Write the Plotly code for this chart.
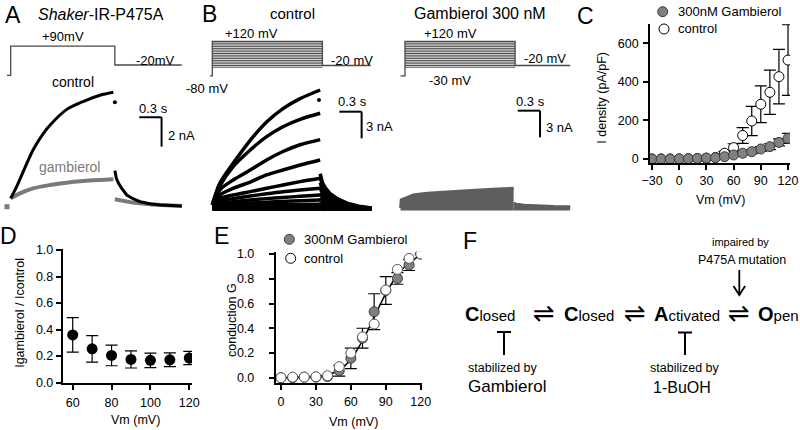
import plotly.graph_objects as go

W, H = 800, 430
FONT = "Liberation Sans, Arial, Helvetica, sans-serif"

# ---------------- Panel A : Shaker-IR-P475A, +90 mV (time s, current nA) ----------------
a_ctrl_t = [0.0, 0.08, 0.30, 0.44, 0.53, 0.75, 0.98, 1.20, 1.38]
a_ctrl_i = [0.52, 1.32, 3.82, 4.95, 5.52, 6.57, 7.14, 7.55, 7.75]
a_ctrl_end_t = [1.40]
a_ctrl_end_i = [7.07]
a_ctrl_tail_t = [1.40, 1.42, 1.45, 1.49, 1.56, 1.65, 1.74, 1.87, 2.01, 2.15, 2.30]
a_ctrl_tail_i = [2.41, 1.89, 1.55, 1.22, 0.75, 0.48, 0.29, 0.15, 0.07, 0.03, 0.0]
a_gamb_t = [0.0, 0.125, 0.30, 0.53, 0.75, 0.98, 1.20, 1.38]
a_gamb_i = [0.52, 0.86, 1.20, 1.43, 1.59, 1.70, 1.77, 1.82]
a_gamb_tail_t = [1.40, 1.52, 1.64, 1.90, 2.30]
a_gamb_tail_i = [0.46, 0.33, 0.23, 0.10, 0.0]
a_gamb_start_t = [-0.05]
a_gamb_start_i = [-0.05]
a_prot_t = [-0.05, 0.0, 0.0, 1.40, 1.40, 2.30]
a_prot_mv = [-80, -80, 90, 90, -20, -20]

# ---------------- Panel B : control family ----------------
b_t = [0.0, 0.10, 0.28, 0.51, 0.73, 0.95, 1.18, 1.45]
b_ctrl_traces = [
    [0.5, 2.92, 5.17, 7.76, 9.82, 11.33, 12.45, 13.42],
    [0.5, 2.60, 4.79, 6.67, 8.17, 9.29, 10.12, 10.80],
    [0.5, 2.17, 3.30, 4.42, 5.55, 6.50, 7.26, 7.84],
    [0.5, 1.61, 2.36, 3.07, 3.86, 4.42, 4.98, 5.55],
    [0.5, 1.24, 1.61, 1.99, 2.36, 2.74, 3.11, 3.49],
    [0.5, 0.97, 1.20, 1.49, 1.75, 1.98, 2.17, 2.36],
    [0.5, 0.70, 0.85, 1.05, 1.20, 1.32, 1.47, 1.62],
    [0.4, 0.50, 0.60, 0.70, 0.80, 0.88, 0.97, 1.05],
    [0.3, 0.35, 0.40, 0.45, 0.50, 0.52, 0.55, 0.58],
    [0.2, 0.2, 0.2, 0.22, 0.24, 0.25, 0.26, 0.28],
    [0.1, 0.1, 0.1, 0.1, 0.1, 0.1, 0.1, 0.1],
    [0.0, 0.0, 0.0, 0.0, 0.0, 0.0, 0.0, 0.0],
]
b_tail_t = [1.45, 1.48, 1.52, 1.58, 1.68, 1.81, 1.97, 2.14]
b_ctrl_tails = [
    [4.0, 3.0, 2.4, 1.8, 1.2, 0.7, 0.35, 0.15],
    [3.6, 2.7, 2.1, 1.6, 1.05, 0.6, 0.3, 0.12],
    [3.0, 2.3, 1.8, 1.35, 0.9, 0.5, 0.25, 0.1],
    [2.4, 1.8, 1.45, 1.1, 0.7, 0.4, 0.2, 0.08],
    [1.8, 1.4, 1.1, 0.85, 0.55, 0.3, 0.15, 0.05],
    [1.3, 1.0, 0.8, 0.6, 0.4, 0.25, 0.12, 0.05],
    [0.9, 0.7, 0.55, 0.4, 0.3, 0.18, 0.1, 0.04],
    [0.6, 0.5, 0.4, 0.3, 0.2, 0.12, 0.06, 0.02],
    [0.35, 0.3, 0.25, 0.2, 0.15, 0.1, 0.05, 0.02],
    [0.2, 0.18, 0.15, 0.12, 0.1, 0.07, 0.05, 0.02],
    [0.1, 0.1, 0.08, 0.07, 0.06, 0.05, 0.03, 0.01],
    [0.0, 0.0, 0.0, 0.0, 0.0, 0.0, 0.0, 0.0],
]
b_ctrl_end_t = [1.434]
b_ctrl_end_i = [12.29]
b_steps_mv = [-30, -20, -10, 0, 10, 20, 30, 40, 50, 60, 70, 80, 90, 100, 110, 120]
b_ctrl_prot_t = [-0.03, 0.0, 0.0, 1.48, 1.48, 2.13]
b_ctrl_prot_mv = [-80, -80, 120, 120, -20, -20]

# ---------------- Panel B : gambierol 300 nM family ----------------
g_t = [-0.06, -0.05, 0.0, 0.11, 0.30, 0.56, 0.80, 1.00, 1.25, 1.46]
g_top_i = [0.3, 1.2, 1.37, 1.74, 1.95, 2.11, 2.22, 2.31, 2.41, 2.50]
g_tail_t = [1.46, 1.50, 1.60, 1.80, 2.00, 2.22]
g_tail_i = [0.81, 0.70, 0.60, 0.50, 0.46, 0.43]
g_prot_t = [-0.06, 0.0, 0.0, 1.48, 1.48, 2.22]
g_prot_mv = [-80, -80, 120, 120, -20, -20]

# ---------------- Panel C : I density ----------------
c_vm = [-30, -20, -10, 0, 10, 20, 30, 40, 50, 60, 70, 80, 90, 100, 110, 120]
c_gamb = [0, 0, 0, 1, 2, 3, 5, 7, 12, 21, 30, 38, 52, 64, 86, 107]
c_gamb_err = [1, 1, 1, 1, 1, 2, 2, 3, 4, 6, 8, 10, 12, 15, 18, 26]
c_ctrl = [0, 0, 0, 0, 1, 2, 4, 8, 30, 59, 122, 197, 284, 346, 427, 513]
c_ctrl_err = [0, 0, 0, 0, 1, 1, 2, 4, 10, 20, 41, 76, 95, 115, 141, 183]

# ---------------- Panel D : ratio ----------------
d_vm = [60, 70, 80, 90, 100, 110, 120]
d_ratio = [0.36, 0.255, 0.205, 0.175, 0.168, 0.172, 0.185]
d_err = [0.13, 0.10, 0.078, 0.065, 0.055, 0.052, 0.05]

# ---------------- Panel E : conductance ----------------
e_vm = [0, 10, 20, 30, 40, 50, 60, 70, 80, 90, 100, 110, 120]
e_ctrl = [0.0, 0.005, 0.005, 0.008, 0.016, 0.089, 0.20, 0.33, 0.434, 0.709, 0.876, 0.965, 1.0]
e_gamb = [0.0, 0.0, 0.005, 0.005, 0.01, 0.057, 0.157, 0.32, 0.534, 0.705, 0.803, 0.911, 1.0]
e_gamb_err = [0, 0, 0, 0, 0, 0.044, 0.083, 0.08, 0.145, 0.112, 0.047, 0.044, 0]
e_fit_g = [0.0, 0.002, 0.004, 0.01, 0.025, 0.06, 0.15, 0.30, 0.49, 0.68, 0.83, 0.93, 0.99]

# legend labels
leg_labels = ["300nM Gambierol", "control"]

# ---------------- geometry helpers (pixel -> axis ranges) ----------------
def full_range(o, s, size, flip=False):
    if flip:  # pixel y grows downward, value = (o - py)/s
        return [(o - size) / s, o / s]
    return [(0 - o) / s, (size - o) / s]

XS = 74.4          # px per second
A_X0, A_Y0, A_YS = 10.7, 206.0, 14.67
B1_X0, B1_Y0, B_YS = 212.3, 209.3, 8.89
B2_X0, B2_Y0 = 405.0, 210.5
P_S = 0.1715       # px per mV for protocols

def prot_range(y_at_m80):
    return [-80 + (y_at_m80 - H) / P_S, -80 + y_at_m80 / P_S]

fig = go.Figure()
BLACK = "#000000"
GA = "#7a7a7a"
GB = "#5e5e5e"
PROT = "#4a4a4a"
GFILL = "#808080"
GEDGE = "#3a3a3a"

def add(tr):
    fig.add_trace(tr)

# ---- Panel A traces
add(go.Scatter(x=a_prot_t, y=a_prot_mv, xaxis="x4", yaxis="y5", mode="lines",
               line=dict(color=PROT, width=1.3), hoverinfo="skip"))
add(go.Scatter(x=a_gamb_t, y=a_gamb_i, xaxis="x4", yaxis="y4", mode="lines",
               line=dict(color=GA, width=4, shape="spline", smoothing=0.8)))
add(go.Scatter(x=a_gamb_tail_t, y=a_gamb_tail_i, xaxis="x4", yaxis="y4", mode="lines",
               line=dict(color=GA, width=4)))
add(go.Scatter(x=a_gamb_start_t, y=a_gamb_start_i, xaxis="x4", yaxis="y4", mode="markers",
               marker=dict(color=GA, size=5, symbol="square")))
add(go.Scatter(x=a_ctrl_t, y=a_ctrl_i, xaxis="x4", yaxis="y4", mode="lines",
               line=dict(color=BLACK, width=3, shape="spline", smoothing=0.8)))
add(go.Scatter(x=a_ctrl_tail_t, y=a_ctrl_tail_i, xaxis="x4", yaxis="y4", mode="lines",
               line=dict(color=BLACK, width=3)))
add(go.Scatter(x=a_ctrl_end_t, y=a_ctrl_end_i, xaxis="x4", yaxis="y4", mode="markers",
               marker=dict(color=BLACK, size=4)))

# ---- Panel B control
def step_family(steps, t_end):
    xs, ys = [], []
    for v in steps:
        xs += [0.0, t_end, None]
        ys += [v, v, None]
    return xs, ys

sx, sy = step_family(b_steps_mv, b_ctrl_prot_t[3])
add(go.Scatter(x=sx, y=sy, xaxis="x6", yaxis="y7", mode="lines",
               line=dict(color=PROT, width=1), hoverinfo="skip"))
add(go.Scatter(x=b_ctrl_prot_t, y=b_ctrl_prot_mv, xaxis="x6", yaxis="y7", mode="lines",
               line=dict(color=PROT, width=1.3), hoverinfo="skip"))
for tr, tl in zip(b_ctrl_traces, b_ctrl_tails):
    add(go.Scatter(x=b_t, y=tr, xaxis="x6", yaxis="y6", mode="lines",
                   line=dict(color=BLACK, width=3.5, shape="spline", smoothing=0.8)))
    add(go.Scatter(x=b_tail_t, y=tl, xaxis="x6", yaxis="y6", mode="lines",
                   line=dict(color=BLACK, width=3.5)))
add(go.Scatter(x=b_ctrl_end_t, y=b_ctrl_end_i, xaxis="x6", yaxis="y6", mode="markers",
               marker=dict(color=BLACK, size=4)))

# ---- Panel B gambierol
gx, gy = step_family(b_steps_mv, g_prot_t[3])
add(go.Scatter(x=gx, y=gy, xaxis="x8", yaxis="y9", mode="lines",
               line=dict(color=PROT, width=1), hoverinfo="skip"))
add(go.Scatter(x=g_prot_t, y=g_prot_mv, xaxis="x8", yaxis="y9", mode="lines",
               line=dict(color=PROT, width=1.3), hoverinfo="skip"))
add(go.Scatter(x=g_t, y=g_top_i, xaxis="x8", yaxis="y8", mode="lines", fill="tozeroy",
               fillcolor=GB, line=dict(color=GB, width=3)))
add(go.Scatter(x=g_tail_t, y=g_tail_i, xaxis="x8", yaxis="y8", mode="lines", fill="tozeroy",
               fillcolor=GB, line=dict(color=GB, width=3)))

# ---- Panel C
add(go.Scatter(x=c_vm, y=c_ctrl, xaxis="x", yaxis="y", mode="markers", name="control",
               marker=dict(size=10, color="white", line=dict(color=BLACK, width=1)),
               error_y=dict(type="data", array=c_ctrl_err, color=BLACK, thickness=1.2, width=6)))
add(go.Scatter(x=c_vm, y=c_gamb, xaxis="x", yaxis="y", mode="markers", name="300nM Gambierol",
               marker=dict(size=10, color=GFILL, line=dict(color=GEDGE, width=1)),
               error_y=dict(type="data", array=c_gamb_err, color=BLACK, thickness=1.2, width=6)))

# ---- Panel D
add(go.Scatter(x=d_vm, y=d_ratio, xaxis="x2", yaxis="y2", mode="markers",
               marker=dict(size=11, color=BLACK),
               error_y=dict(type="data", array=d_err, color=BLACK, thickness=1.2, width=6)))

# ---- Panel E
add(go.Scatter(x=e_vm, y=e_fit_g, xaxis="x3", yaxis="y3", mode="lines",
               line=dict(color=BLACK, width=1.5, shape="spline")))
add(go.Scatter(x=e_vm, y=e_gamb, xaxis="x3", yaxis="y3", mode="markers", name="300nM Gambierol",
               marker=dict(size=10, color=GFILL, line=dict(color=GEDGE, width=1)),
               error_y=dict(type="data", array=e_gamb_err, color=BLACK, thickness=1.2, width=6)))
add(go.Scatter(x=e_vm, y=e_ctrl, xaxis="x3", yaxis="y3", mode="markers", name="control",
               marker=dict(size=10, color="white", line=dict(color="#555555", width=1))))

# ---------------- axes ----------------
def vis_axis(dom, rng, tickvals, anchor, fmt=None, standoff=0):
    d = dict(domain=dom, range=rng, tickvals=tickvals, ticks="outside", ticklen=5,
             tickwidth=1.5, tickcolor=BLACK, showline=True, linewidth=1.8, linecolor=BLACK,
             showgrid=False, zeroline=False, tickfont=dict(size=12.5, color=BLACK, family=FONT),
             ticklabelstandoff=standoff, fixedrange=True, anchor=anchor, automargin=False)
    if fmt:
        d["tickformat"] = fmt
    return d

def hid(rng, **kw):
    d = dict(domain=[0, 1], range=rng, visible=False, fixedrange=True, automargin=False)
    d.update(kw)
    return d

layout = dict(
    template="none",
    width=W, height=H, margin=dict(l=0, r=0, t=0, b=0, pad=0), autosize=False,
    paper_bgcolor="white", plot_bgcolor="rgba(0,0,0,0)",
    font=dict(family=FONT, color=BLACK, size=13),
    showlegend=False,
    xaxis=vis_axis([650 / W, 790 / W], [-32.2, 122.2], [-30, 0, 30, 60, 90, 120], "y", standoff=0),
    yaxis=vis_axis([1 - 163 / H, 1 - 24 / H], [-20.7, 700], [0, 200, 400, 600], "x", standoff=2),
    xaxis2=vis_axis([62.7 / W, 192 / W], [54.85, 121.4], [60, 80, 100, 120], "y2", standoff=2),
    yaxis2=vis_axis([1 - 383 / H, 1 - 249 / H], [-0.003, 1.008], [0, 0.2, 0.4, 0.6, 0.8, 1.0], "x2", ".1f", 0),
    xaxis3=vis_axis([275.7 / W, 422 / W], [-4.55, 121.1], [0, 30, 60, 90, 120], "y3", standoff=1),
    yaxis3=vis_axis([1 - 383.3 / H, 1 - 251.7 / H], [-0.045, 1.019], [0, 0.2, 0.4, 0.6, 0.8, 1.0], "x3", ".1f", 12),
    xaxis4=hid(full_range(A_X0, XS, W), anchor="y4"),
    yaxis4=hid(full_range(A_Y0, A_YS, H, flip=True), anchor="x4"),
    yaxis5=hid(prot_range(75.3), overlaying="y4", anchor="x4"),
    xaxis6=hid(full_range(B1_X0, XS, W), anchor="y6"),
    yaxis6=hid(full_range(B1_Y0, B_YS, H, flip=True), anchor="x6"),
    yaxis7=hid(prot_range(75.8), overlaying="y6", anchor="x6"),
    xaxis8=hid(full_range(B2_X0, XS, W), anchor="y8"),
    yaxis8=hid(full_range(B2_Y0, B_YS, H, flip=True), anchor="x8"),
    yaxis9=hid(prot_range(75.8), overlaying="y8", anchor="x8"),
)
fig.update_layout(**layout)

# ---------------- annotations (pixel positions) ----------------
anns = []
def ann(text, x, y, size=13, color=BLACK, xanchor="center", angle=0, family=FONT):
    anns.append(dict(text=text, x=x / W, y=1 - y / H, xref="paper", yref="paper",
                     showarrow=False, xanchor=xanchor, yanchor="middle", textangle=angle,
                     borderpad=0, align="left" if xanchor == "left" else "center",
                     font=dict(size=size, color=color, family=family)))

# panel letters
for lab, x, y in [("A", 12.5, 15), ("B", 209, 14), ("C", 585.3, 16.2), ("D", 8.3, 235.5),
                  ("E", 221.7, 235.5), ("F", 470, 241.5)]:
    ann(lab, x, y, size=23)

# A
ann("<i>Shaker</i>-IR-P475A", 36.7, 15, size=16, xanchor="left")
ann("+90mV", 63, 36.7)
ann("-20mV", 155, 60)
ann("control", 72.7, 81.7, size=14)
ann("gambierol", 69, 166.7, size=14, color=GA)
ann("0.3 s", 153, 108)
ann("2 nA", 166.7, 135, xanchor="left")
# B control
ann("control", 292.5, 13.3, size=15)
ann("+120 mV", 251.7, 33.3)
ann("-20 mV", 351.7, 60)
ann("-80 mV", 206.7, 88.3)
ann("0.3 s", 352, 101.7)
ann("3 nA", 365, 127, xanchor="left")
# B gambierol
ann("Gambierol 300 nM", 480, 13.3, size=16)
ann("+120 mV", 450, 33.3)
ann("-20 mV", 545, 58.3)
ann("-30 mV", 450, 80)
ann("0.3 s", 530, 101.7)
ann("3 nA", 545, 127.3, xanchor="left")
# axis titles
ann("I density (pA/pF)", 601.7, 98, size=12.5, angle=-90)
ann("Vm (mV)", 720, 200, size=12.5)
ann("Igambierol / Icontrol", 19.3, 312.5, size=12.5, angle=-90)
ann("Vm (mV)", 135, 420, size=12.5)
ann("conduction G", 232, 320, size=12.5, angle=-90)
ann("Vm (mV)", 353, 421.7, size=12.5)
# legends (text)
ann(leg_labels[0], 677, 11.7, size=13, xanchor="left")
ann(leg_labels[1], 677, 29, size=13, xanchor="left")
ann(leg_labels[0], 302.7, 239.3, size=13, xanchor="left")
ann(leg_labels[1], 302.7, 258.3, size=13, xanchor="left")
# F scheme
def state(big, rest):
    return "<b><span style='font-size:20px'>%s</span></b><span style='font-size:15px'>%s</span>" % (big, rest)
ann(state("C", "losed"), 464, 314, xanchor="left")
ann(state("C", "losed"), 563, 314, xanchor="left")
ann(state("A", "ctivated"), 653, 314, xanchor="left")
ann(state("O", "pen"), 757, 314, xanchor="left")
for xc in [544.3, 635, 739]:
    ann("\u21cc", xc, 313, size=26, family="DejaVu Sans")
ann("impaired by", 740, 242.3, size=11)
ann("P475A mutation", 741.7, 260, size=12.5)
ann("stabilized by", 503, 368, size=12.5)
ann("Gambierol", 507, 386.7, size=17)
ann("stabilized by", 685, 368, size=12.5)
ann("1-BuOH", 681.7, 387, size=16)
fig.update_layout(annotations=anns)

# ---------------- shapes ----------------
shapes = []
def pline(x0, y0, x1, y1, w=2):
    shapes.append(dict(type="line", xref="paper", yref="paper", x0=x0 / W, y0=1 - y0 / H,
                       x1=x1 / W, y1=1 - y1 / H, line=dict(color=BLACK, width=w)))
def dline(xr, yr, x0, y0, x1, y1, w=2):
    shapes.append(dict(type="line", xref=xr, yref=yr, x0=x0, y0=y0, x1=x1, y1=y1,
                       line=dict(color=BLACK, width=w)))
def key(x, y, fill, edge, r=5):
    shapes.append(dict(type="circle", xref="paper", yref="paper",
                       x0=(x - r) / W, x1=(x + r) / W, y0=1 - (y + r) / H, y1=1 - (y - r) / H,
                       fillcolor=fill, line=dict(color=edge, width=1)))
# legend keys
key(662.7, 11.7, GFILL, GEDGE)
key(664, 29, "white", BLACK)
key(289.3, 239.3, GFILL, GEDGE)
key(290.7, 258.3, "white", BLACK)
# scale bars (in data units of each trace panel)
dline("x4", "y4", 1.728, 6.05, 2.028, 6.05)
dline("x4", "y4", 2.028, 6.05, 2.028, 4.05)
dline("x6", "y6", 1.707, 10.98, 2.007, 10.98)
dline("x6", "y6", 2.007, 10.98, 2.007, 7.98)
dline("x8", "y8", 1.515, 11.23, 1.815, 11.23)
dline("x8", "y8", 1.815, 11.23, 1.815, 8.23)
# T-bars in scheme
pline(497, 332, 511, 332)
pline(504, 332, 504, 355)
pline(678, 332.5, 692, 332.5)
pline(685, 332.5, 685, 355)
# down arrow
pline(739.3, 270, 739.3, 295, 1.8)
shapes.append(dict(type="path", xref="paper", yref="paper",
                   path="M %f,%f L %f,%f L %f,%f" % (733.5 / W, 1 - 286 / H, 739.3 / W, 1 - 295 / H,
                                                     745.1 / W, 1 - 286 / H),
                   line=dict(color=BLACK, width=1.8)))
fig.update_layout(shapes=shapes)

fig.write_html("out.html", config={"displayModeBar": False},
               post_script="document.body.style.margin='0';document.body.style.overflow='hidden';")
